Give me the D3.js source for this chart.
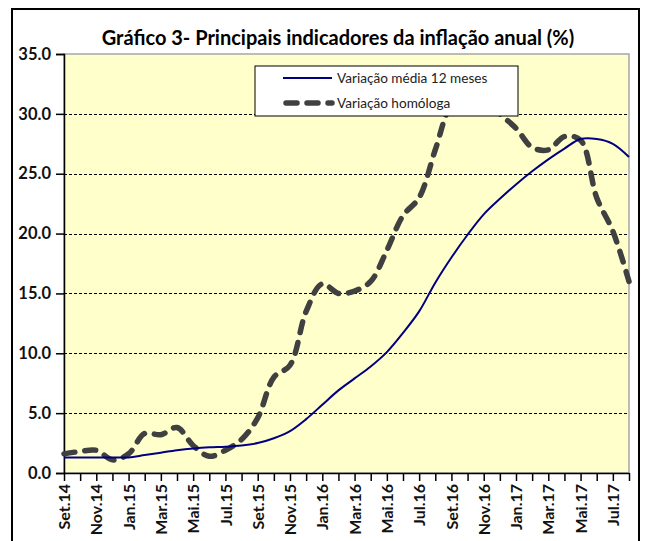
<!DOCTYPE html>
<html>
<head>
<meta charset="utf-8">
<script src="https://cdn.jsdelivr.net/npm/d3@7"></script>
<style>
  body { margin: 0; background: #fff; }
  svg { display: block; font-family: Lato, "Open Sans", sans-serif; }
</style>
</head>
<body>
<script>
// months Set.14 .. Ago.17
var months = ["Set.14","Out.14","Nov.14","Dez.14","Jan.15","Fev.15","Mar.15","Abr.15","Mai.15","Jun.15","Jul.15","Ago.15",
              "Set.15","Out.15","Nov.15","Dez.15","Jan.16","Fev.16","Mar.16","Abr.16","Mai.16","Jun.16","Jul.16","Ago.16",
              "Set.16","Out.16","Nov.16","Dez.16","Jan.17","Fev.17","Mar.17","Abr.17","Mai.17","Jun.17","Jul.17","Ago.17"];

// Variação média 12 meses
var media12 = [1.3,1.3,1.3,1.3,1.3,1.5,1.7,1.9,2.05,2.15,2.2,2.3,
               2.5,2.9,3.5,4.5,5.7,6.9,7.9,8.9,10.1,11.7,13.5,15.9,
               18.0,19.9,21.6,22.9,24.1,25.2,26.2,27.1,27.9,27.9,27.5,26.4];

// Variação homóloga
var homologa = [1.6,1.8,1.9,1.1,1.6,3.3,3.2,3.8,2.3,1.4,1.9,2.8,
                4.6,8.0,9.0,13.5,15.8,15.0,15.2,16.0,18.6,21.5,23.0,27.0,
                30.8,31.8,31.5,30.0,28.8,27.2,27.0,28.1,27.8,23.0,20.2,16.0];

var yTicks = [0,5,10,15,20,25,30,35];
var seriesNames = ["Variação média 12 meses", "Variação homóloga"];

var W = 646, H = 541;
var pL = 64, pR = 629, pT = 54, pB = 473;

var svg = d3.select("body").append("svg")
    .attr("width", W)
    .attr("height", H);

// outer frame
svg.append("rect")
    .attr("x", 12).attr("y", 9)
    .attr("width", 627).attr("height", 560)
    .attr("fill", "#fff")
    .attr("stroke", "#000")
    .attr("stroke-width", 2);

// title
svg.append("text")
    .attr("x", 338).attr("y", 45)
    .attr("text-anchor", "middle")
    .attr("font-size", 20)
    .attr("font-weight", "bold")
    .text("Gráfico 3- Principais indicadores da inflação anual (%)");

var x = d3.scalePoint().domain(months).range([pL, pR]);
var y = d3.scaleLinear().domain([0, 35]).range([pB, pT]);

// plot area
svg.append("rect")
    .attr("x", pL).attr("y", pT)
    .attr("width", pR - pL).attr("height", pB - pT)
    .attr("fill", "#ffffcc")
    .attr("stroke", "#a6a6a6")
    .attr("stroke-width", 1.5);

// gridlines
svg.append("g")
    .selectAll("line")
    .data(yTicks.filter(function(d){ return d > 0 && d < 35; }))
    .enter()
    .append("line")
    .attr("x1", pL).attr("x2", pR)
    .attr("y1", function(d){ return Math.round(y(d)) + 0.5; })
    .attr("y2", function(d){ return Math.round(y(d)) + 0.5; })
    .attr("stroke", "#000")
    .attr("stroke-width", 1)
    .attr("stroke-dasharray", "3,2");

// y axis
var yAxis = svg.append("g")
    .attr("transform", "translate(" + pL + ",0)")
    .call(d3.axisLeft(y).tickValues(yTicks).tickSize(8).tickPadding(6)
          .tickFormat(function(d){ return d3.format(".1f")(d); }));
yAxis.selectAll("path, line").attr("stroke", "#000").attr("stroke-width", 1.5);
yAxis.selectAll("text")
    .attr("font-size", 16.5)
    .attr("font-weight", "bold")
    .attr("font-family", "Lato, sans-serif")
    .attr("fill", "#111")
    .attr("x", -13);

// x axis
var xAxis = svg.append("g")
    .attr("transform", "translate(0," + pB + ")")
    .call(d3.axisBottom(x).tickSize(8).tickSizeOuter(0)
          .tickFormat(function(d, i){ return i % 2 === 0 ? d : ""; }));
xAxis.select(".domain").attr("stroke", "#000").attr("stroke-width", 1.5);
xAxis.selectAll("line").attr("stroke", "#000").attr("stroke-width", 1.5);
xAxis.selectAll("text")
    .attr("font-size", 16)
    .attr("font-weight", "bold")
    .attr("font-family", "Lato, sans-serif")
    .attr("fill", "#111")
    .attr("text-anchor", "end")
    .attr("transform", "rotate(-90)")
    .attr("x", -11)
    .attr("y", 0)
    .attr("dy", "0.35em");

// lines
var lineGen = d3.line()
    .x(function(d, i){ return x(months[i]); })
    .y(function(d){ return y(d); })
    .curve(d3.curveCatmullRom.alpha(0.5));

svg.append("path")
    .datum(homologa)
    .attr("d", lineGen)
    .attr("fill", "none")
    .attr("stroke", "#404040")
    .attr("stroke-width", 5.5)
    .attr("stroke-linecap", "round")
    .attr("stroke-dasharray", "11,10");

svg.append("path")
    .datum(media12)
    .attr("d", lineGen)
    .attr("fill", "none")
    .attr("stroke", "#000080")
    .attr("stroke-width", 2);

// legend
var lg = svg.append("g").attr("transform", "translate(255,66)");
lg.append("rect")
    .attr("width", 263).attr("height", 50)
    .attr("fill", "#fff")
    .attr("stroke", "#000")
    .attr("stroke-width", 1);

lg.append("line")
    .attr("x1", 28).attr("x2", 77).attr("y1", 12).attr("y2", 12)
    .attr("stroke", "#000080").attr("stroke-width", 2);
lg.append("line")
    .attr("x1", 31).attr("x2", 77).attr("y1", 37).attr("y2", 37)
    .attr("stroke", "#404040").attr("stroke-width", 5.5)
    .attr("stroke-linecap", "round")
    .attr("stroke-dasharray", "11,10");

lg.selectAll("text.leg")
    .data(seriesNames)
    .enter()
    .append("text")
    .attr("class", "leg")
    .attr("x", 82)
    .attr("y", function(d, i){ return 17 + i * 25; })
    .attr("font-size", 13.6)
    .attr("fill", "#222")
    .text(function(d){ return d; });
</script>
</body>
</html>
